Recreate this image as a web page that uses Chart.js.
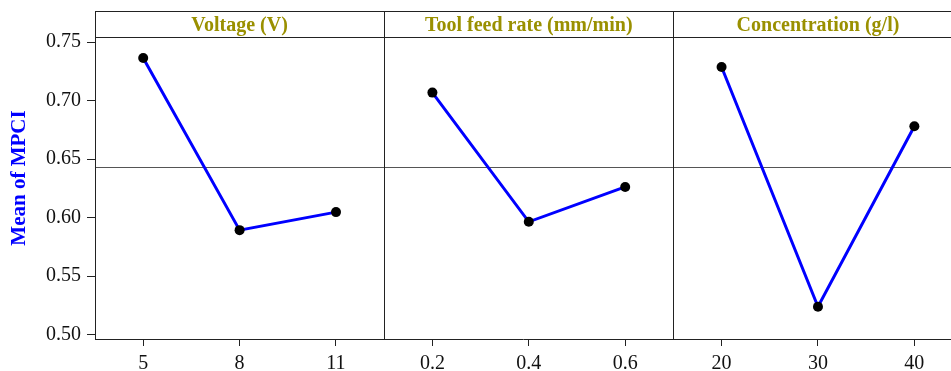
<!DOCTYPE html>
<html><head><meta charset="utf-8">
<script src="https://cdn.jsdelivr.net/npm/chart.js@4.4.1/dist/chart.umd.min.js"></script>
<style>html,body{margin:0;padding:0;background:#fff;overflow:hidden}#wrap{width:951px;height:371px;position:relative}</style>
</head><body><div id="wrap"><canvas id="c"></canvas></div>
<script>
const panelTitles = ["Voltage (V)", "Tool feed rate (mm/min)", "Concentration (g/l)"];
const voltageLevels = ["5", "8", "11"];
const voltageMeans = [0.7363, 0.5893, 0.6047];
const feedLevels = ["0.2", "0.4", "0.6"];
const feedMeans = [0.7068, 0.5964, 0.6262];
const concLevels = ["20", "30", "40"];
const concMeans = [0.7287, 0.5239, 0.6781];
const yTickValues = [0.50, 0.55, 0.60, 0.65, 0.70, 0.75];
const yAxisTitle = "Mean of MPCI";

const panels = [
  {levels: voltageLevels, means: voltageMeans},
  {levels: feedLevels, means: feedMeans},
  {levels: concLevels, means: concMeans}
];
const allLevels = panels.flatMap(p => p.levels);
const allMeans = panels.flatMap(p => p.means);
const grandMean = allMeans.reduce((a, b) => a + b, 0) / allMeans.length;

const SERIF = "'Liberation Serif', 'DejaVu Serif', serif";

const datasets = panels.map((p, pi) => ({
  data: p.means.map((m, i) => ({x: pi * 3 + i + 0.5, y: m})),
  borderColor: '#0000ff',
  borderWidth: 3,
  pointRadius: 5,
  pointHoverRadius: 5,
  pointBackgroundColor: '#000',
  pointBorderColor: '#000',
  pointBorderWidth: 0,
  fill: false,
  tension: 0
}));

const framePlugin = {
  id: 'frame',
  beforeDatasetsDraw(chart) {
    const {ctx, chartArea, scales} = chart;
    const y = scales.y;
    ctx.save();
    const gy = Math.round(y.getPixelForValue(grandMean)) + 0.5;
    ctx.strokeStyle = '#555';
    ctx.lineWidth = 1;
    ctx.beginPath();
    ctx.moveTo(chartArea.left, gy);
    ctx.lineTo(chartArea.right, gy);
    ctx.stroke();
    ctx.restore();
  },
  afterDraw(chart) {
    const {ctx, chartArea, scales} = chart;
    const x = scales.x;
    const headerTop = 11.5;
    const headerBottom = chartArea.top + 0.5;
    ctx.save();
    ctx.strokeStyle = '#222';
    ctx.lineWidth = 1;
    ctx.beginPath();
    ctx.moveTo(chartArea.left, headerTop);
    ctx.lineTo(chartArea.right, headerTop);
    ctx.moveTo(chartArea.left, headerBottom);
    ctx.lineTo(chartArea.right, headerBottom);
    ctx.moveTo(chartArea.left + 0.5, headerTop);
    ctx.lineTo(chartArea.left + 0.5, chartArea.bottom);
    for (let k = 1; k < panels.length; k++) {
      const px = Math.round(x.getPixelForValue(k * 3)) + 0.5;
      ctx.moveTo(px, headerTop);
      ctx.lineTo(px, chartArea.bottom);
    }
    ctx.stroke();
    ctx.fillStyle = '#9a9000';
    ctx.font = "bold 20px " + SERIF;
    ctx.textAlign = 'center';
    ctx.textBaseline = 'alphabetic';
    panelTitles.forEach((t, k) => {
      ctx.fillText(t, x.getPixelForValue(k * 3 + 1.5), 31);
    });
    ctx.translate(20, 178);
    ctx.rotate(-Math.PI / 2);
    ctx.fillStyle = '#0000ff';
    ctx.font = "bold 21px " + SERIF;
    ctx.textBaseline = 'middle';
    ctx.fillText(yAxisTitle, 0, 0);
    ctx.restore();
  }
};

new Chart(document.getElementById('c'), {
  type: 'line',
  data: {datasets},
  options: {
    responsive: true,
    maintainAspectRatio: false,
    animation: false,
    devicePixelRatio: 1,
    layout: {autoPadding: false, padding: {top: 37, left: 0, right: 0, bottom: 0}},
    plugins: {legend: {display: false}, tooltip: {enabled: false}, title: {display: false}},
    scales: {
      x: {
        type: 'linear',
        min: 0,
        max: 8.88,
        afterBuildTicks: s => { s.ticks = allLevels.map((_, i) => ({value: i + 0.5})); },
        afterFit: s => { s.height = 32; s.paddingRight = 0; s.paddingLeft = 0; },
        ticks: {
          callback: v => allLevels[Math.floor(v)],
          font: {family: SERIF, size: 20},
          color: '#111',
          padding: 6,
          autoSkip: false,
          maxRotation: 0
        },
        grid: {drawOnChartArea: false, drawTicks: true, tickLength: 7, color: '#222', tickWidth: 1},
        border: {display: true, color: '#222', width: 1}
      },
      y: {
        type: 'linear',
        min: 0.4963,
        max: 0.7543,
        afterBuildTicks: s => { s.ticks = yTickValues.map(v => ({value: v})); },
        afterFit: s => { s.width = 95; },
        ticks: {
          callback: v => v.toFixed(2),
          font: {family: SERIF, size: 20},
          color: '#111',
          padding: 6
        },
        grid: {drawOnChartArea: false, drawTicks: true, tickLength: 8, color: '#222', tickWidth: 1},
        border: {display: true, color: '#222', width: 1}
      }
    }
  },
  plugins: [framePlugin]
});
</script></body></html>
